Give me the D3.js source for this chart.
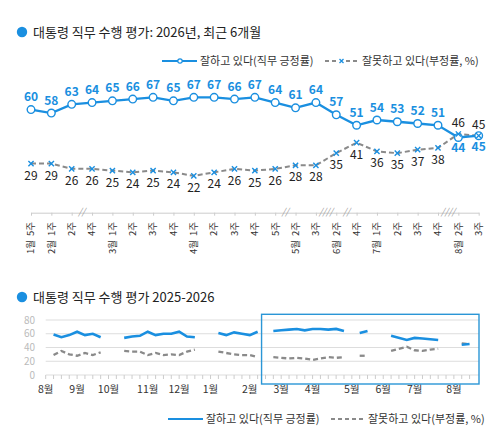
<!DOCTYPE html>
<html><head><meta charset="utf-8">
<script src="https://cdn.jsdelivr.net/npm/d3@7"></script>
<style>
body{margin:0;background:#fff}
text{font-family:"Noto Sans CJK KR","Noto Sans",sans-serif}
</style>
</head><body>
<svg id="c" width="497" height="437"></svg>
<script>
// ---------- recent 6 months (top chart) ----------
const weekLabels = ["5주","1주","2주","4주","1주","2주","3주","4주","1주","2주","3주","4주","5주","2주","3주","2주","4주","1주","2주","3주","4주","2주","3주"];
const monthLabels = ["1월","2월","","","3월","","","","4월","","","","","5월","","6월","","7월","","","","8월",""];
const approve = [60,58,63,64,65,66,67,65,67,67,66,67,64,61,64,57,51,54,53,52,51,44,45];
const disapprove = [29,29,26,26,25,24,25,24,22,24,26,25,26,28,28,35,41,36,35,37,38,46,45];
const gapAfter = [2,12,14,15,20];
const gapMarks = ["//","//","////","//","////"];

// ---------- 2025-2026 overview (bottom chart) ----------
const recentWeekIndex = [25,26,27,29,30,31,32,33,34,35,36,37,38,40,41,44,46,47,48,49,50,53,54];
const earlierWeekIndex = [1,2,3,4,5,6,7,10,11,12,13,14,15,16,17,18,19,22,23,24];
const earlierApprove = [59,55,58,63,58,60,55,54,56,57,63,58,60,60,63,56,55,61,58,62];
const earlierDisapprove = [29,35,30,28,32,29,33,35,34,34,29,32,29,30,29,34,37,34,32,30];
const segmentStarts = [1,10,22,29,40,44,53];
const yearMonthLabels = ["8월","9월","10월","11월","12월","1월","2월","3월","4월","5월","6월","7월","8월"];
const yearMonthWeeks = [0,4,8,13,17,21,26,30,34,39,43,47,52];
const yearTicks = [0,20,40,60,80];
const highlightWeeks = [27.5,55.2];

const BLUE = "#1a8fe0", GRAY = "#8a8a8a";
const svg = d3.select("#c");

// ===== Titles =====
function title(y, txt){
  svg.append("circle").attr("cx",22).attr("cy",y).attr("r",5.2).attr("fill",BLUE);
  svg.append("text").attr("x",33).attr("y",y).attr("dy","0.36em")
     .attr("font-size",13).attr("fill","#222").text(txt);
}
title(32, "대통령 직무 수행 평가: 2026년, 최근 6개월");
title(297, "대통령 직무 수행 평가 2025-2026");

// ===== Legends =====
function legend(y, x0, markers){
  const g = svg.append("g");
  g.append("line").attr("x1",x0).attr("x2",x0+35).attr("y1",y).attr("y2",y)
    .attr("stroke",BLUE).attr("stroke-width",2.2);
  if(markers) g.append("circle").attr("cx",x0+18).attr("cy",y).attr("r",2.2).attr("fill","#fff").attr("stroke",BLUE).attr("stroke-width",1.2);
  g.append("text").attr("x",x0+38).attr("y",y).attr("dy","0.36em").attr("font-size",11).attr("fill","#333").text("잘하고 있다(직무 긍정률)");
  const x1 = x0+163;
  g.append("line").attr("x1",x1).attr("x2",x1+34).attr("y1",y).attr("y2",y)
    .attr("stroke",GRAY).attr("stroke-width",2).attr("stroke-dasharray","4,3");
  if(markers){
    g.append("rect").attr("x",x1+13).attr("y",y-3).attr("width",7).attr("height",6).attr("fill","#fff");
    g.append("path").attr("d",`M${x1+14.5},${y-2}L${x1+18.5},${y+2}M${x1+14.5},${y+2}L${x1+18.5},${y-2}`).attr("stroke",BLUE).attr("stroke-width",1.3);
  }
  g.append("text").attr("x",x1+37).attr("y",y).attr("dy","0.36em").attr("font-size",11).attr("fill","#333").text("잘못하고 있다(부정률, %)");
}
legend(61, 162, true);
legend(419, 168, false);

// ===== Top chart =====
const idx = d3.range(approve.length);
const x = d3.scalePoint().domain(idx).range([31, 478.7]);
const y = d3.scaleLinear().domain([0,100]).range([214.2, 39.8]);
const axisY = 212.7;

const ax = svg.append("g").attr("transform",`translate(0,${axisY})`)
  .call(d3.axisBottom(x).tickSize(3).tickSizeOuter(0).tickFormat(""));
ax.select(".domain").attr("stroke","#ccc");
ax.selectAll(".tick line").attr("stroke","#ccc");

gapAfter.forEach((a,k)=>{
  const xm = (x(a)+x(a+1))/2;
  svg.append("text").attr("x",xm).attr("y",axisY+2.5).attr("text-anchor","middle")
    .attr("font-size",9).attr("font-style","italic").attr("fill","#999").text(gapMarks[k]);
});

idx.forEach(i=>{
  svg.append("text").attr("transform",`translate(${x(i)},222) rotate(-90)`)
    .attr("text-anchor","end").attr("dy","0.35em").attr("font-size",9.5).attr("fill","#333").text(weekLabels[i]);
  if(monthLabels[i]) svg.append("text").attr("transform",`translate(${x(i)},240) rotate(-90)`)
    .attr("text-anchor","end").attr("dy","0.35em").attr("font-size",9.5).attr("fill","#333").text(monthLabels[i]);
});

const lineTop = d3.line().x((d,i)=>x(i)).y(d=>y(d));
svg.append("path").datum(disapprove).attr("d",lineTop).attr("fill","none")
  .attr("stroke",GRAY).attr("stroke-width",2).attr("stroke-dasharray","5,3");
svg.append("path").datum(approve).attr("d",lineTop).attr("fill","none")
  .attr("stroke",BLUE).attr("stroke-width",2.3);
svg.selectAll(".pt").data(approve).enter().append("circle")
  .attr("cx",(d,i)=>x(i)).attr("cy",d=>y(d)).attr("r",3.8)
  .attr("fill","#fff").attr("stroke",BLUE).attr("stroke-width",1.4);
svg.selectAll(".xm").data(disapprove).enter().append("path")
  .attr("d",(d,i)=>{const cx=x(i),cy=y(d),s=2.6;return `M${cx-s},${cy-s}L${cx+s},${cy+s}M${cx-s},${cy+s}L${cx+s},${cy-s}`;})
  .attr("stroke",BLUE).attr("stroke-width",1.4);

const n = approve.length;
svg.selectAll(".al").data(approve).enter().append("text")
  .attr("x",(d,i)=>x(i)).attr("y",(d,i)=> i>=n-2 ? y(d)+15 : y(d)-8.5)
  .attr("text-anchor","middle").attr("font-size",12).attr("font-weight",700).attr("fill",BLUE).text(d=>d);
svg.selectAll(".dl").data(disapprove).enter().append("text")
  .attr("x",(d,i)=>x(i)).attr("y",(d,i)=> i>=n-2 ? y(d)-7 : y(d)+16)
  .attr("text-anchor","middle").attr("font-size",12).attr("fill","#222").text(d=>d);

// ===== Bottom chart =====
const xb = d3.scaleLinear().domain([0,55.2]).range([45.7,479]);
const yb = d3.scaleLinear().domain([0,80]).range([375,320]);

yearTicks.forEach(t=>{
  svg.append("line").attr("x1",xb(0)).attr("x2",xb(55.2)).attr("y1",yb(t)).attr("y2",yb(t))
    .attr("stroke","#ddd").attr("stroke-width",1);
  svg.append("text").attr("x",35).attr("y",yb(t)).attr("dy","0.35em").attr("text-anchor","end")
    .attr("font-size",10).attr("fill","#bbb").text(t);
});
d3.range(0,55).forEach(w=>{
  svg.append("line").attr("x1",xb(w)).attr("x2",xb(w)).attr("y1",375).attr("y2",379)
    .attr("stroke","#ccc").attr("stroke-width",1);
});
yearMonthLabels.forEach((m,k)=>{
  svg.append("text").attr("x",xb(yearMonthWeeks[k])).attr("y",389).attr("dy","0.35em")
    .attr("text-anchor","middle").attr("font-size",10.5).attr("fill","#333").text(m);
});

const all = earlierWeekIndex.map((w,i)=>({w,a:earlierApprove[i],d:earlierDisapprove[i]}))
  .concat(recentWeekIndex.map((w,i)=>({w,a:approve[i],d:disapprove[i]})))
  .sort((p,q)=>p.w-q.w);
const segs = segmentStarts.map((s,k)=>{
  const e = k+1<segmentStarts.length ? segmentStarts[k+1] : Infinity;
  return all.filter(p=>p.w>=s && p.w<e);
});
const lb = key => d3.line().x(p=>xb(p.w)).y(p=>yb(p[key]));
segs.forEach(sg=>{
  svg.append("path").datum(sg).attr("d",lb("d")).attr("fill","none")
    .attr("stroke",GRAY).attr("stroke-width",2.3).attr("stroke-dasharray","5,3");
  svg.append("path").datum(sg).attr("d",lb("a")).attr("fill","none")
    .attr("stroke",BLUE).attr("stroke-width",2.6);
});

svg.append("rect").attr("x",xb(highlightWeeks[0])).attr("y",314.3)
  .attr("width",xb(highlightWeeks[1])-xb(highlightWeeks[0])).attr("height",69.7)
  .attr("fill","none").attr("stroke","#2a96d6").attr("stroke-width",1.4);
</script>
</body></html>
